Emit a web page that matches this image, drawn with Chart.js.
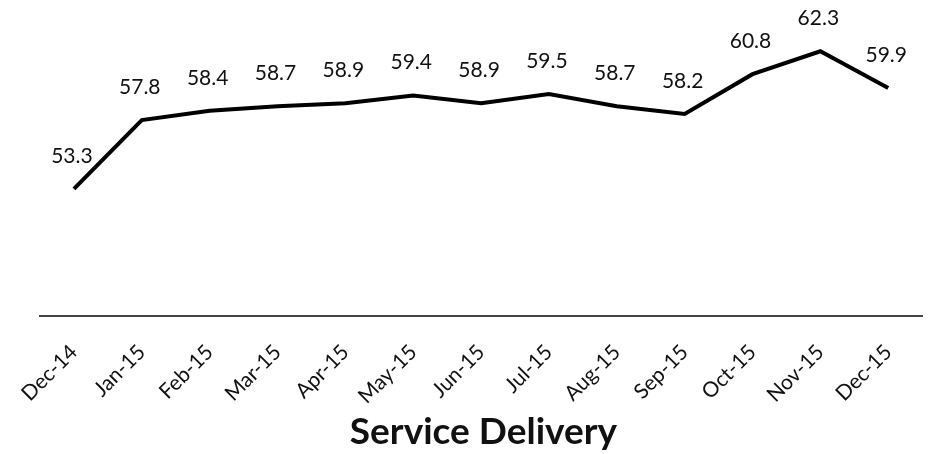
<!DOCTYPE html>
<html>
<head>
<meta charset="utf-8">
<script src="https://cdn.jsdelivr.net/npm/chart.js@4/dist/chart.umd.min.js"></script>
<style>
  html, body { margin: 0; padding: 0; background: #fff; }
  #wrap { width: 930px; height: 454px; }
</style>
</head>
<body>
<div id="wrap"><canvas id="chart"></canvas></div>
<script>
// ------------------ Data ------------------
const months = ['Dec-14', 'Jan-15', 'Feb-15', 'Mar-15', 'Apr-15', 'May-15', 'Jun-15',
                'Jul-15', 'Aug-15', 'Sep-15', 'Oct-15', 'Nov-15', 'Dec-15'];
const serviceDelivery = [53.3, 57.8, 58.4, 58.7, 58.9, 59.4, 58.9, 59.5, 58.7, 58.2, 60.8, 62.3, 59.9];
const chartTitle = 'Service Delivery';

const FONT = 'Lato, "Open Sans", sans-serif';

// draws the value above each point
const valueLabels = {
    id: 'valueLabels',
    afterDatasetsDraw(chart) {
        const ctx = chart.ctx;
        const meta = chart.getDatasetMeta(0);
        ctx.save();
        ctx.font = '21px ' + FONT;
        ctx.fillStyle = '#111';
        ctx.textAlign = 'center';
        ctx.textBaseline = 'middle';
        meta.data.forEach(function(pt, i) {
            ctx.fillText(serviceDelivery[i].toFixed(1), pt.x - 2, pt.y - 33);
        });
        ctx.restore();
    }
};

new Chart(document.getElementById('chart'), {
    type: 'line',
    data: {
        labels: months,
        datasets: [{
            label: chartTitle,
            data: serviceDelivery,
            borderColor: '#000',
            borderWidth: 4,
            pointRadius: 0,
            tension: 0,
            fill: false
        }]
    },
    options: {
        responsive: true,
        maintainAspectRatio: false,
        animation: false,
        layout: { padding: { top: 10, left: 38, right: 1, bottom: 0 } },
        plugins: {
            legend: { display: false },
            tooltip: { enabled: false },
            title: {
                display: true,
                text: chartTitle,
                position: 'bottom',
                color: '#111',
                font: { family: FONT, size: 37, weight: 'bold' },
                padding: { top: -23, bottom: 0 }
            }
        },
        scales: {
            x: {
                offset: true,
                grid: { display: false, drawTicks: false },
                border: { display: true, color: '#444', width: 2 },
                ticks: {
                    color: '#111',
                    font: { family: FONT, size: 21 },
                    minRotation: 45,
                    maxRotation: 45,
                    padding: 24,
                    autoSkip: false
                }
            },
            y: {
                display: false,
                min: 45,
                max: 65
            }
        }
    },
    plugins: [valueLabels]
});
</script>
</body>
</html>
